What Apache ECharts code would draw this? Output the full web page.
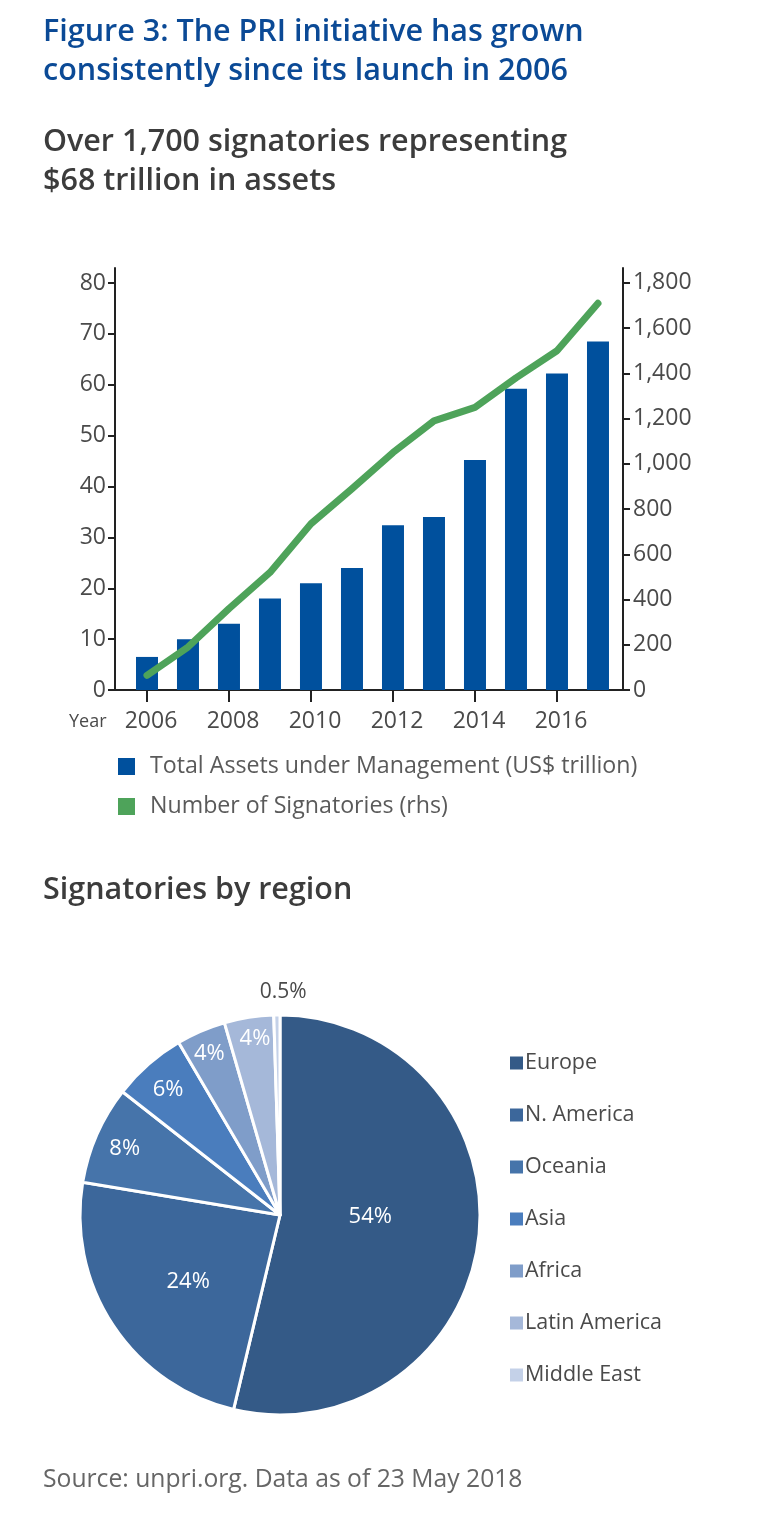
<!DOCTYPE html>
<html>
<head>
<meta charset="utf-8">
<title>PRI initiative</title>
<script src="https://cdn.jsdelivr.net/npm/echarts@6/dist/echarts.min.js"></script>
<style>
  html, body { margin: 0; padding: 0; background: #fff; }
  #main { width: 760px; height: 1527px; }
</style>
</head>
<body>
<div id="main"></div>
<script type="text/javascript">
    // chart data
    var years = [2006, 2007, 2008, 2009, 2010, 2011, 2012, 2013, 2014, 2015, 2016, 2017];
    var assets = [6.5, 10, 13, 18, 21, 24, 32.4, 34, 45.2, 59.2, 62.2, 68.5];
    var signatories = [65, 190, 360, 520, 735, 890, 1050, 1190, 1250, 1380, 1500, 1710];
    var yearTicks = [2006, 2008, 2010, 2012, 2014, 2016];
    var assetTicks = [0, 10, 20, 30, 40, 50, 60, 70, 80];
    var signatoryTicks = [0, 200, 400, 600, 800, 1000, 1200, 1400, 1600, 1800];

    var regions = ['Europe', 'N. America', 'Oceania', 'Asia', 'Africa', 'Latin America', 'Middle East'];
    var regionShares = [54, 24, 8, 6, 4, 4, 0.5];
    var regionColors = ['#345a87', '#3c679b', '#4674aa', '#4a7dbd', '#7f9dc9', '#a5b8d9', '#c4d1e8'];

    var assetsName = 'Total Assets under Management (US$ trillion)';
    var signatoriesName = 'Number of Signatories (rhs)';

    var fontName = 'Open Sans';
    var textColor = '#4a4a4a';

    // nudges for the pie labels, the source does not keep them at mid radius
    var labelNudge = [[-12, -10], [-6, 10], [-61, -25], [-44, -48], [-30, -67], [-9, -75], [60, -8]];

    function heading(text, top, color) {
        return {
            text: text, left: 43, top: top, padding: 0,
            textStyle: { fontFamily: fontName, fontSize: 30.5, fontWeight: 600, color: color, lineHeight: 39 }
        };
    }

    var myChart = echarts.init(document.getElementById('main'));

    var option = {
        backgroundColor: '#fff',
        animation: false,
        title: [
            heading('Figure 3: The PRI initiative has grown\nconsistently since its launch in 2006', 13, '#0b4a96'),
            heading('Over 1,700 signatories representing\n$68 trillion in assets', 123, '#3c3c3c'),
            heading('Signatories by region', 871, '#3c3c3c'),
            {
                text: 'Year', left: 69, top: 713, padding: 0,
                textStyle: { fontFamily: fontName, fontSize: 18, fontWeight: 400, color: textColor }
            },
            {
                text: 'Source: unpri.org. Data as of 23 May 2018', left: 43, top: 1467, padding: 0,
                textStyle: { fontFamily: fontName, fontSize: 24.7, fontWeight: 400, color: '#666' }
            }
        ],
        legend: [
            {
                orient: 'vertical', left: 118, top: 755, padding: 0,
                itemWidth: 17, itemHeight: 17, itemGap: 17,
                data: [
                    { name: assetsName, icon: 'rect' },
                    { name: signatoriesName, icon: 'rect' }
                ],
                textStyle: { fontFamily: fontName, fontSize: 23.2, color: '#5a5a5a', padding: [0, 0, 0, 10] }
            },
            {
                orient: 'vertical', left: 508, top: 1052, padding: 0,
                itemWidth: 15, itemHeight: 15, itemGap: 30,
                icon: 'rect',
                data: regions,
                textStyle: { fontFamily: fontName, fontSize: 21.5, color: '#4a4a4a', padding: [0, 0, 0, -4] }
            }
        ],
        grid: { left: 115, right: 137, top: 268, height: 422 },
        xAxis: {
            type: 'value',
            min: 2005.22,
            max: 2017.61,
            splitLine: { show: false },
            axisLine: { onZero: false, lineStyle: { color: '#222', width: 2 } },
            axisTick: { customValues: yearTicks, length: 12, lineStyle: { color: '#222', width: 2 } },
            axisLabel: {
                customValues: yearTicks,
                formatter: function (v) { return String(v); },
                fontFamily: fontName, fontSize: 23, color: textColor, margin: 20,
                padding: [0, 0, 0, 8]
            }
        },
        yAxis: [
            {
                type: 'value', min: 0, max: 82.95,
                splitLine: { show: false },
                axisLine: { show: true, lineStyle: { color: '#222', width: 2 } },
                axisTick: { show: true, customValues: assetTicks, length: 7, lineStyle: { color: '#222', width: 2 } },
                axisLabel: {
                    customValues: assetTicks,
                    fontFamily: fontName, fontSize: 23, color: textColor, margin: 9
                }
            },
            {
                type: 'value', min: 0, max: 1866, position: 'right',
                splitLine: { show: false },
                axisLine: { show: true, lineStyle: { color: '#222', width: 2 } },
                axisTick: { show: true, customValues: signatoryTicks, length: 7, lineStyle: { color: '#222', width: 2 } },
                axisLabel: {
                    customValues: signatoryTicks,
                    formatter: function (v) { return v.toLocaleString('en-US'); },
                    fontFamily: fontName, fontSize: 23, color: textColor, margin: 10
                }
            }
        ],
        series: [
            {
                name: assetsName,
                type: 'bar',
                barWidth: 22,
                itemStyle: { color: '#00509d' },
                data: years.map(function (y, i) { return [y, assets[i]]; })
            },
            {
                name: signatoriesName,
                type: 'line',
                yAxisIndex: 1,
                symbol: 'none',
                z: 5,
                lineStyle: { color: '#4ea35a', width: 7, cap: 'round', join: 'round' },
                itemStyle: { color: '#4ea35a' },
                data: years.map(function (y, i) { return [y, signatories[i]]; })
            },
            {
                type: 'pie',
                center: [280, 1215],
                radius: [0, 200],
                startAngle: 90,
                clockwise: true,
                avoidLabelOverlap: false,
                itemStyle: { borderColor: '#fff', borderWidth: 3 },
                label: {
                    position: 'inside',
                    fontFamily: fontName, fontSize: 22, color: '#fff',
                    formatter: function (p) { return p.value + '%'; }
                },
                labelLine: { show: false },
                labelLayout: function (p) {
                    var n = labelNudge[p.dataIndex];
                    return { dx: n[0], dy: n[1] };
                },
                data: regions.map(function (name, i) {
                    var item = { name: name, value: regionShares[i], itemStyle: { color: regionColors[i] } };
                    if (name === 'Middle East') {
                        item.label = { position: 'outside', color: textColor, fontSize: 21, distanceToLabelLine: 0 };
                    }
                    return item;
                })
            }
        ]
    };
    myChart.setOption(option);
</script>
</body>
</html>
